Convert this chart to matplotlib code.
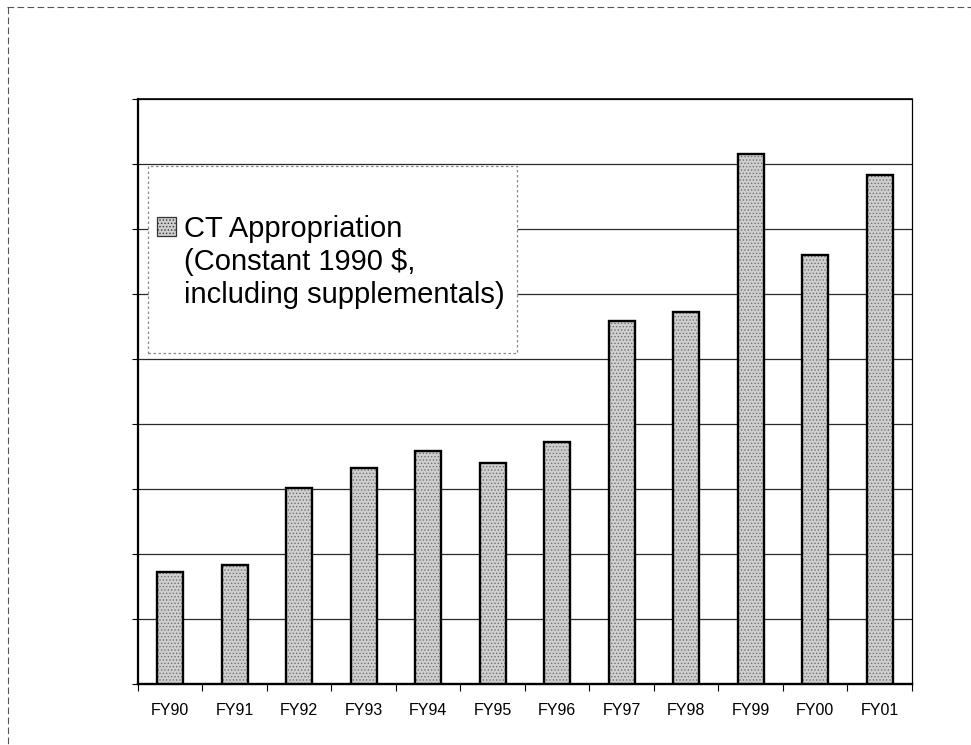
import matplotlib.pyplot as plt
from matplotlib.patches import Patch, Rectangle
from matplotlib.lines import Line2D

# Datos (unidades de la cuadrícula)
anios = ['FY90', 'FY91', 'FY92', 'FY93', 'FY94', 'FY95',
         'FY96', 'FY97', 'FY98', 'FY99', 'FY00', 'FY01']
apropiacion = [1.73, 1.83, 3.02, 3.32, 3.58, 3.40,
               3.72, 5.58, 5.72, 8.16, 6.60, 7.83]
lineas_leyenda = ['CT Appropriation', '(Constant 1990 $,',
                  'including supplementals)']

plt.rcParams['font.family'] = ['Liberation Sans', 'DejaVu Sans']
plt.rcParams['hatch.linewidth'] = 0.6

fig = plt.figure(figsize=(9.71, 7.45), dpi=100)
ax = fig.add_axes([0.1421, 0.0819, 0.7971, 0.7852])

x = range(len(anios))
# Relleno punteado
ax.bar(x, apropiacion, width=0.40, color='#cfcfcf', hatch='.....',
       edgecolor='#707070', linewidth=0, zorder=3)
# Borde negro
ax.bar(x, apropiacion, width=0.40, fill=False, edgecolor='black',
       linewidth=1.7, zorder=4)

ax.set_xlim(-0.5, len(anios) - 0.5)
ax.set_ylim(0, 9)
ax.set_yticks(range(10))
ax.set_yticklabels([])
ax.tick_params(axis='y', length=4, width=0.8)
ax.grid(axis='y', color='#2a2a2a', linewidth=0.9, zorder=1)

ax.set_xticks(x)
ax.set_xticklabels(anios, fontsize=11.5)
ax.set_xticks([i - 0.5 for i in range(len(anios) + 1)], minor=True)
ax.tick_params(axis='x', which='major', length=0, pad=14)
ax.tick_params(axis='x', which='minor', length=5, width=0.8)

ax.spines['top'].set_linewidth(1.2)
ax.spines['right'].set_linewidth(0.9)
ax.spines['left'].set_linewidth(1.6)
ax.spines['bottom'].set_linewidth(1.7)

# Caja de la leyenda
caja = Rectangle((0.0129, 0.5658), 0.4768, 0.3197, transform=ax.transAxes,
                 facecolor='white', edgecolor='#8a8a8a', linewidth=0.9,
                 linestyle=(0, (2, 2)), zorder=5)
ax.add_patch(caja)

proxy = Patch(facecolor='#cfcfcf', hatch='.....', edgecolor='#333333',
              linewidth=0.9)
vacio1 = Patch(visible=False)
vacio2 = Patch(visible=False)
leg = ax.legend([proxy, vacio1, vacio2], lineas_leyenda, loc='upper left',
                bbox_to_anchor=(0.0245, 0.802), fontsize=21, frameon=False,
                handlelength=0.65, handleheight=0.65, handletextpad=0.28,
                borderpad=0, borderaxespad=0, labelspacing=0.18)
leg.set_zorder(6)

# Marco de la página
fig.add_artist(Line2D([0.007, 1.0], [0.99, 0.99], transform=fig.transFigure,
                      color='#555555', linewidth=0.8, linestyle=(0, (6, 3))))
fig.add_artist(Line2D([0.008, 0.008], [0.99, 0.0], transform=fig.transFigure,
                      color='#555555', linewidth=0.8, linestyle=(0, (6, 3))))

fig.savefig('out.png', dpi=100)
